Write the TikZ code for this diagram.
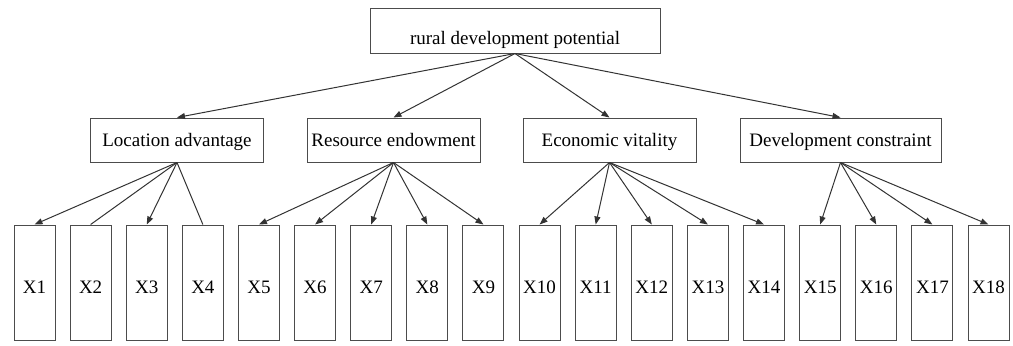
\documentclass[tikz,border=0pt]{standalone}
\usepackage{fontspec}
\setmainfont{Liberation Serif}
\usetikzlibrary{arrows.meta}
\begin{document}
\begin{tikzpicture}[x=0.5pt,y=-0.5pt,
  box/.style={draw=black!70, line width=0.5pt, inner sep=0pt, fill=white,
    font=\fontsize{9.5}{11}\selectfont},
  root/.style={box, minimum width=145pt, minimum height=22.5pt,
    text height=16pt, text depth=2pt},
  crit/.style={box, minimum height=22pt, text height=8.7pt, text depth=2pt},
  ind/.style={box, minimum width=20.5pt, minimum height=57.5pt,
    text height=10.8pt, text depth=0pt},
  link/.style={draw=black!80, line width=0.5pt},
  arr/.style={link, -{Triangle[length=4pt,width=3pt]}}]
\useasboundingbox (0,0) rectangle (1013,345);

% goal
\node[root] (R) at (515,30.5) {rural development potential};

% criteria
\node[crit, minimum width=86.5pt]  (L) at (177,140)   {Location advantage};
\node[crit, minimum width=86.5pt]  (E) at (393.5,140) {Resource endowment};
\node[crit, minimum width=86.5pt]  (V) at (609.5,140) {Economic vitality};
\node[crit, minimum width=100.5pt] (D) at (840.5,140) {Development constraint};

% indicators
\foreach \i in {1,...,18}
  \node[ind] (X\i) at ({34.5+(\i-1)*56.12},282.5) {X\i};

% goal to criteria
\foreach \c in {L,E,V,D}
  \draw[arr] (R.south) -- (\c.north);

% criteria to indicators
\draw[arr]  (L.south) -- (X1.north);
\draw[link] (L.south) -- (X2.north);
\draw[arr]  (L.south) -- (X3.north);
\draw[link] (L.south) -- (X4.north);
\foreach \i in {5,...,9}
  \draw[arr] (E.south) -- (X\i.north);
\foreach \i in {10,...,14}
  \draw[arr] (V.south) -- (X\i.north);
\foreach \i in {15,...,18}
  \draw[arr] (D.south) -- (X\i.north);
\end{tikzpicture}
\end{document}
